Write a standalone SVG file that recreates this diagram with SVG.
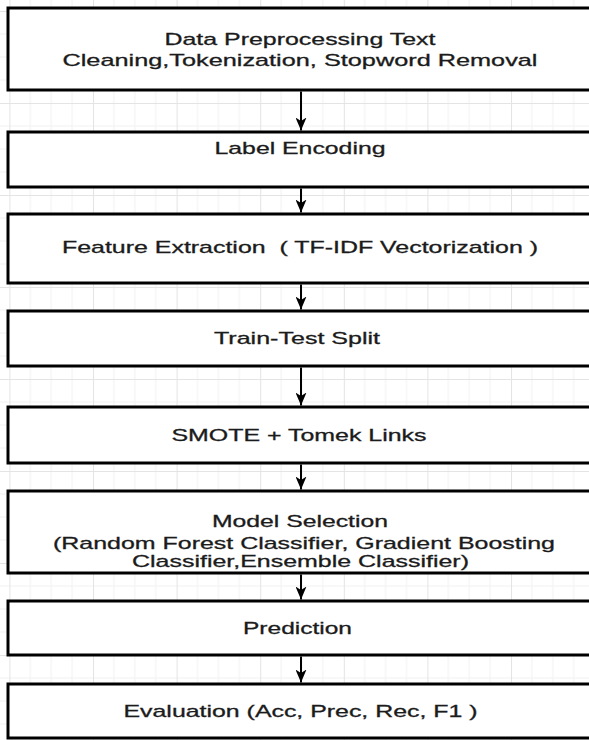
<svg xmlns="http://www.w3.org/2000/svg" width="589" height="740" viewBox="0 0 589 740">
<style>
.box{fill:#ffffff;stroke:#000000;stroke-width:3}
.lbl{font-family:"Liberation Sans",Arial,sans-serif;font-size:17px;fill:#1b1b1b;stroke:#1b1b1b;stroke-width:0.3;text-anchor:middle}
.conn{stroke:#000000;stroke-width:2;fill:none}
</style>
<defs>
<pattern id="grid" patternUnits="userSpaceOnUse" x="9.4" y="11" width="83.6" height="92">
<rect width="83.6" height="92" fill="#ffffff"/>
<path d="M20.9,0V92M41.8,0V92M62.7,0V92M0,23H83.6M0,46H83.6M0,69H83.6" stroke="#f2f2f2" stroke-width="1"/>
<path d="M0.5,0V92M0,0.5H83.6" stroke="#e4e4e4" stroke-width="1"/>
</pattern>
<marker id="arr" markerUnits="userSpaceOnUse" markerWidth="13" markerHeight="11" viewBox="0 0 13 11" refX="13" refY="5.5" orient="auto">
<path d="M0,0 L13,5.5 L0,11 L3.5,5.5 Z" fill="#000000"/>
</marker>
</defs>
<rect x="0" y="0" width="589" height="740" fill="url(#grid)"/>
<g id="connectors">
<line class="conn" x1="301" y1="91.5" x2="301" y2="130.5" marker-end="url(#arr)"/>
<line class="conn" x1="301" y1="188.5" x2="301" y2="212.5" marker-end="url(#arr)"/>
<line class="conn" x1="301" y1="284.5" x2="301" y2="309.5" marker-end="url(#arr)"/>
<line class="conn" x1="301" y1="367.5" x2="301" y2="405.5" marker-end="url(#arr)"/>
<line class="conn" x1="301" y1="464.5" x2="301" y2="489.5" marker-end="url(#arr)"/>
<line class="conn" x1="301" y1="574.5" x2="301" y2="599.5" marker-end="url(#arr)"/>
<line class="conn" x1="301" y1="656.5" x2="301" y2="682.5" marker-end="url(#arr)"/>
</g>
<g id="preprocessing">
<rect class="box" x="8" y="8" width="586" height="82"/>
<text class="lbl" x="300" y="45" textLength="271" lengthAdjust="spacingAndGlyphs">Data Preprocessing Text</text>
<text class="lbl" x="300" y="66" textLength="475" lengthAdjust="spacingAndGlyphs">Cleaning,Tokenization, Stopword Removal</text>
</g>
<g id="label-encoding">
<rect class="box" x="8" y="132" width="586" height="55"/>
<text class="lbl" x="300" y="154" textLength="171" lengthAdjust="spacingAndGlyphs">Label Encoding</text>
</g>
<g id="feature-extraction">
<rect class="box" x="8" y="214" width="586" height="69"/>
<text class="lbl" x="300" y="253" textLength="476" lengthAdjust="spacingAndGlyphs" xml:space="preserve">Feature Extraction  ( TF-IDF Vectorization )</text>
</g>
<g id="train-test-split">
<rect class="box" x="8" y="311" width="586" height="55"/>
<text class="lbl" x="297" y="344" textLength="166" lengthAdjust="spacingAndGlyphs">Train-Test Split</text>
</g>
<g id="smote">
<rect class="box" x="8" y="407" width="586" height="56"/>
<text class="lbl" x="299" y="441" textLength="255" lengthAdjust="spacingAndGlyphs">SMOTE + Tomek Links</text>
</g>
<g id="model-selection">
<rect class="box" x="8" y="491" width="586" height="82"/>
<text class="lbl" x="300" y="527" textLength="176" lengthAdjust="spacingAndGlyphs">Model Selection</text>
<text class="lbl" x="304" y="549" textLength="502" lengthAdjust="spacingAndGlyphs">(Random Forest Classifier, Gradient Boosting</text>
<text class="lbl" x="300.5" y="567" textLength="337" lengthAdjust="spacingAndGlyphs">Classifier,Ensemble Classifier)</text>
</g>
<g id="prediction">
<rect class="box" x="8" y="601" width="586" height="54"/>
<text class="lbl" x="297.5" y="634" textLength="109" lengthAdjust="spacingAndGlyphs">Prediction</text>
</g>
<g id="evaluation">
<rect class="box" x="8" y="684" width="586" height="54"/>
<text class="lbl" x="300.5" y="717" textLength="354" lengthAdjust="spacingAndGlyphs">Evaluation (Acc, Prec, Rec, F1 )</text>
</g>
</svg>
